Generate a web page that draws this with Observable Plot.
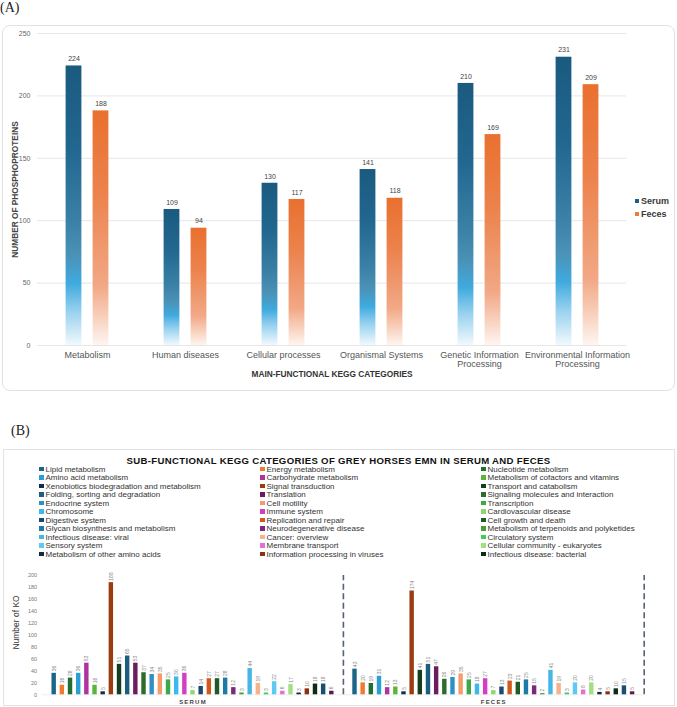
<!DOCTYPE html>
<html><head><meta charset="utf-8">
<script src="https://cdn.jsdelivr.net/npm/d3@7"></script>
<script src="https://cdn.jsdelivr.net/npm/@observablehq/plot@0.6"></script>
<style>
body{margin:0;background:#fff;font-family:"Liberation Sans",Arial,sans-serif;}
#page{position:relative;width:677px;height:707px;overflow:hidden;background:#fff;}
.abs{position:absolute;}
.panel-label{font-family:"Liberation Serif","Times New Roman",serif;font-size:14px;color:#222;}
.frameA{left:2px;top:25px;width:671px;height:364px;border:1px solid #e2e2e2;border-radius:8px;}
.frameB{left:3px;top:449px;width:670px;height:255px;border:1px solid #e2e2e2;}
.legA{left:635px;top:195px;font-size:9px;font-weight:bold;color:#3a3a3a;line-height:13px;}
.legA span.sw{display:inline-block;width:4px;height:4px;margin-right:2px;vertical-align:middle;position:relative;top:-1px;}
.titleB{left:0;width:677px;top:455px;text-align:center;font-size:9.6px;font-weight:bold;letter-spacing:0.32px;color:#111;}
.legB{left:39px;top:465.5px;display:grid;grid-template-columns:221px 221px 221px;grid-auto-rows:8.53px;font-size:8px;line-height:8.53px;color:#333;white-space:nowrap;}
.legB span.sw{display:inline-block;width:4.5px;height:4.5px;margin-right:2px;vertical-align:middle;position:relative;top:-0.5px;}
svg{position:absolute;left:0;}
</style></head><body><div id="page"></div>
<script>
// ---------- Panel A data ----------
const mainCategories = ["Metabolism","Human diseases","Cellular processes","Organismal Systems","Genetic Information\nProcessing","Environmental Information\nProcessing"];
const serumMain = [224,109,130,141,210,231];
const fecesMain = [188,94,117,118,169,209];
const mainSeries = ["Serum","Feces"];
const mainSeriesColors = ["#1d5f84","#ed7d31"];
const yTicksMain = [0,50,100,150,200,250];

// ---------- Panel B data ----------
const subCategories = [
 "Lipid metabolism","Energy metabolism","Nucleotide metabolism",
 "Amino acid metabolism","Carbohydrate metabolism","Metabolism of cofactors and vitamins",
 "Xenobiotics biodegradation and metabolism","Signal transduction","Transport and catabolism",
 "Folding, sorting and degradation","Translation","Signaling molecules and interaction",
 "Endocrine system","Cell motility","Transcription",
 "Chromosome","Immune system","Cardiovascular disease",
 "Digestive system","Replication and repair","Cell growth and death",
 "Glycan biosynthesis and metabolism","Neurodegenerative disease","Metabolism of terpenoids and polyketides",
 "Infectious disease: viral","Cancer: overview","Circulatory system",
 "Sensory system","Membrane transport","Cellular community - eukaryotes",
 "Metabolism of other amino acids","Information processing in viruses","Infectious disease: bacterial",
 "(not in legend 1)","(not in legend 2)"
];
const legendCount = 33;
const subColors = [
 "#1b6589","#ee7b30","#1f6e33",
 "#2a9fd6","#b0329e","#5bb53c",
 "#0e2f48","#9b3c10","#153d1f",
 "#1b5e80","#6b1d5d","#2f6b2b",
 "#2f90c8","#f59c6c","#3aa94a",
 "#3cb9ec","#d33fc2","#8fd66c",
 "#194a6b","#d2591d","#1f5a26",
 "#1e7ba5","#7b2a7b","#4b9a3b",
 "#46b5e8","#f7b18c","#3fcb5b",
 "#5ec9f1","#e172d2","#a2de82",
 "#0f2b41","#8b3011","#0e2b13",
 "#1a4d6e","#5b1a51"
];
const serumSub = [36,16,28,36,53,16,5,188,51,65,53,37,34,35,25,30,36,7,14,27,27,28,12,3,44,19,3,22,6,17,3,10,18,18,6];
const fecesSub = [43,20,19,31,12,13,5,174,41,51,47,26,29,35,25,18,27,7,13,23,21,25,15,2,41,19,3,20,8,20,4,5,10,15,5];
const groups = ["SERUM","FECES"];
const yTicksSub = [0,20,40,60,80,100,120,140,160,180,200];

const page = document.getElementById("page");
const FONT = "Liberation Sans, Arial, sans-serif";

function addDiv(cls, html){const d=document.createElement("div");d.className="abs "+cls;d.innerHTML=html||"";page.appendChild(d);return d;}

// frames and labels
addDiv("frameA");
addDiv("frameB");
const la = addDiv("panel-label","(A)"); la.style.left="0px"; la.style.top="0px";
const lb = addDiv("panel-label","(B)"); lb.style.left="11px"; lb.style.top="423px";

// ---------- Panel A chart ----------
const dataA = mainCategories.flatMap((c,i)=>[
  {cat:c, series:"Serum", value:serumMain[i]},
  {cat:c, series:"Feces", value:fecesMain[i]}
]);
const serumA = dataA.filter(d=>d.series==="Serum");
const fecesA = dataA.filter(d=>d.series==="Feces");
const inset = 41.1, off = 13.5;

const plotA = Plot.plot({
  width:677, height:395, marginTop:33, marginBottom:50, marginLeft:37, marginRight:51,
  style:{background:"transparent", fontFamily:FONT, overflow:"visible"},
  x:{domain:mainCategories, padding:0, label:null},
  y:{domain:[0,250], label:null},
  marks:[
    Plot.ruleY(yTicksMain,{stroke:"#e6e6e6", strokeWidth:1}),
    Plot.axisY({ticks:yTicksMain, tickSize:0, tickPadding:7, fontSize:7, fill:"#666", label:null}),
    Plot.axisX({tickSize:0, tickPadding:6, fontSize:9, fill:"#555", label:null}),
    Plot.barY(serumA,{x:"cat", y:"value", fill:"url(#gradSerum)", dx:-off, insetLeft:inset, insetRight:inset}),
    Plot.barY(fecesA,{x:"cat", y:"value", fill:"url(#gradFeces)", dx:off, insetLeft:inset, insetRight:inset}),
    Plot.text(serumA,{x:"cat", y:"value", text:d=>String(d.value), dx:-off, dy:-7, fontSize:7, fill:"#444"}),
    Plot.text(fecesA,{x:"cat", y:"value", text:d=>String(d.value), dx:off, dy:-7, fontSize:7, fill:"#444"}),
    Plot.text(["NUMBER OF PHOSPHOPROTEINS"],{text:d=>d, frameAnchor:"left", textAnchor:"middle", rotate:-90, dx:-22, fontWeight:"bold", fontSize:8.3, fill:"#444"}),
    Plot.text(["MAIN-FUNCTIONAL KEGG CATEGORIES"],{text:d=>d, frameAnchor:"bottom", dy:31, fontWeight:"bold", fontSize:8.3, fill:"#333"})
  ]
});
plotA.style.top = "0px";
const NS = "http://www.w3.org/2000/svg";
function addGradient(svg, id, stops){
  let defs = svg.querySelector("defs");
  if(!defs){defs=document.createElementNS(NS,"defs"); svg.insertBefore(defs, svg.firstChild);}
  const g=document.createElementNS(NS,"linearGradient");
  g.setAttribute("id",id); g.setAttribute("x1","0"); g.setAttribute("y1","0"); g.setAttribute("x2","0"); g.setAttribute("y2","1");
  for(const [o,c] of stops){const s=document.createElementNS(NS,"stop"); s.setAttribute("offset",o); s.setAttribute("stop-color",c); g.appendChild(s);}
  defs.appendChild(g);
}
addGradient(plotA,"gradSerum",[[0,"#1a5a7f"],[0.3,"#226790"],[0.55,"#3a7fa5"],[0.68,"#4b92b7"],[0.78,"#3faade"],[0.88,"#98d1ef"],[1,"#f1f9fd"]]);
addGradient(plotA,"gradFeces",[[0,"#e9702f"],[0.35,"#ec824c"],[0.6,"#ef9a70"],[0.75,"#f2a886"],[0.88,"#f8d0bc"],[1,"#fef5f0"]]);
page.appendChild(plotA);

// legend A
addDiv("legA", mainSeries.map((s,i)=>`<div><span class="sw" style="background:${mainSeriesColors[i]}"></span>${s}</div>`).join(""));

// ---------- Panel B ----------
addDiv("titleB","SUB-FUNCTIONAL KEGG CATEGORIES OF GREY HORSES EMN IN SERUM AND FECES");
addDiv("legB", subCategories.slice(0,legendCount).map((s,i)=>`<div><span class="sw" style="background:${subColors[i]}"></span>${s}</div>`).join(""));

const n = subCategories.length;
const groupWidth = n + 1.84;   // slots per group incl. gaps
const lead = 1.42;             // gap before first bar in a group
const half = 0.27;             // half bar width in slots
const seriesSub = [serumSub, fecesSub];
const dataB = groups.flatMap((g,gi)=>subCategories.map((c,i)=>({
  group:g, cat:c, color:subColors[i], value:seriesSub[gi][i], pos: gi*groupWidth + lead + i
})));
const separators = groups.map((g,gi)=>(gi+1)*groupWidth);
const groupCenters = groups.map((g,gi)=>({group:g, pos: gi*groupWidth + lead + (n-1)/2}));

const plotB = Plot.plot({
  width:677, height:147, marginTop:15, marginBottom:12.7, marginLeft:42.1, marginRight:33.3,
  style:{background:"transparent", fontFamily:FONT, overflow:"visible"},
  x:{type:"linear", domain:[0, 2*groupWidth], axis:null},
  y:{domain:[0,200], label:null},
  marks:[
    Plot.axisY({ticks:yTicksSub, tickSize:0, tickPadding:5.5, fontSize:5.5, fill:"#777", label:null}),
    Plot.ruleY([0],{stroke:"#eeeeee"}),
    Plot.rectY(dataB,{x1:d=>d.pos-half, x2:d=>d.pos+half, y:"value", fill:"color"}),
    Plot.text(dataB,{x:"pos", y:"value", text:d=>String(d.value), rotate:-90, textAnchor:"start", dy:-2, fontSize:5, fill:"#888"}),
    Plot.ruleX(separators,{x:d=>d, y1:0, y2:200, stroke:"#56626f", strokeWidth:1.6, strokeDasharray:"6,3.5"}),
    Plot.text(groupCenters,{x:"pos", y:()=>0, text:"group", dy:7.6, fontSize:6, fontWeight:"bold", fill:"#444"}),
    Plot.text(["Number of KO"],{text:d=>d, frameAnchor:"left", textAnchor:"middle", rotate:-90, dx:-26, dy:-12.7, fontSize:8.5, fill:"#333"})
  ],
  color:{type:"identity"}
});
plotB.style.top = "560px";
plotB.querySelectorAll("text").forEach(t=>{ if(groups.includes(t.textContent)) t.setAttribute("letter-spacing","1.2"); });
page.appendChild(plotB);
</script>
</body></html>
